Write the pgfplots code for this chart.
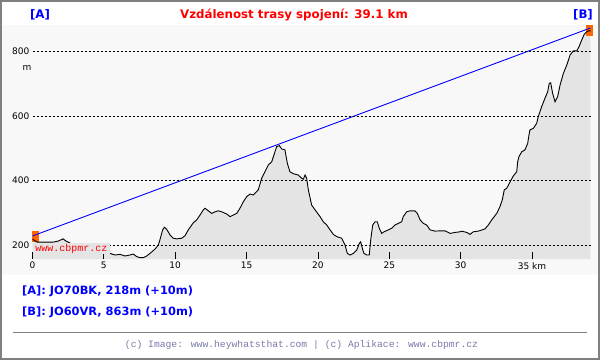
\documentclass[border=0pt]{standalone}
\usepackage{fontspec}
\setmainfont{DejaVu Sans}
\newfontfamily\monofont{Liberation Mono}
\usepackage{pgfplots}
\usepackage{pgfplotstable}
\pgfplotsset{compat=1.18}
\definecolor{panel}{HTML}{F8F8F8}
\definecolor{terrain}{HTML}{E4E4E4}
\definecolor{frame}{HTML}{808080}
\definecolor{orangeM}{HTML}{FF6600}
\definecolor{legblue}{HTML}{0000FF}
\definecolor{footc}{HTML}{7A7AAA}
\pgfplotstableread{
km elev
0 218
0.32 209
0.88 209
1.44 209
1.79 212
2.14 219
2.35 212
2.9 200
3.6 188
4.4 178
5.0 176
5.43 174
5.78 169
6.13 171
6.48 166
6.83 169
7.06 172
7.30 164
7.53 161
7.77 161
8.00 166
8.23 174
8.58 187
8.82 200
8.93 216
9.12 247
9.24 255
9.40 249
9.64 231
9.87 221
10.10 219
10.46 221
10.69 229
10.92 247
11.27 269
11.51 278
11.74 293
11.97 309
12.09 314
12.32 306
12.56 298
12.79 303
13.02 306
13.26 303
13.61 296
13.84 288
14.07 293
14.31 298
14.54 314
14.77 334
15.01 350
15.24 358
15.47 355
15.82 371
16.06 407
16.29 427
16.52 448
16.76 458
16.92 479
17.11 505
17.30 508
17.46 498
17.69 495
17.86 453
18.04 427
18.28 421
18.63 417
18.86 407
18.98 404
19.10 417
19.21 407
19.33 371
19.56 324
19.80 309
20.15 288
20.38 272
20.62 262
20.85 247
21.08 233
21.32 226
21.67 221
21.90 200
22.06 174
22.25 169
22.48 174
22.72 184
22.90 205
23.00 210
23.11 190
23.23 174
23.42 169
23.60 169
23.70 216
23.84 262
24.00 272
24.16 272
24.30 252
24.47 236
24.63 241
24.94 247
25.17 252
25.40 262
25.63 267
25.87 272
25.98 288
26.22 303
26.45 306
26.80 306
26.97 298
27.16 278
27.39 267
27.62 262
27.86 247
28.21 243
28.56 244
28.91 244
29.26 236
29.61 239
29.96 241
30.08 243
30.43 239
30.66 233
30.89 241
31.24 243
31.71 250
31.94 262
32.18 278
32.53 298
32.76 319
32.92 340
33.06 371
33.23 376
33.41 391
33.69 414
33.93 427
34.00 458
34.09 474
34.28 489
34.51 495
34.70 515
34.79 541
34.86 557
35.10 562
35.33 577
35.44 598
35.68 629
35.91 655
36.10 675
36.21 701
36.31 703
36.45 670
36.62 644
36.80 660
36.97 696
37.20 732
37.44 758
37.67 789
37.90 802
38.14 802
38.30 815
38.49 836
38.67 854
38.84 861
39.00 865
39.10 863
}\profile
\begin{document}
\begin{tikzpicture}[x=1pt,y=1pt]
\useasboundingbox (0,0) rectangle (600,360);
\fill[white] (0,0) rectangle (600,360);
\fill[panel] (2,85) rectangle (598,335);
\begin{axis}[
  at={(32.5pt,101pt)}, anchor=south west,
  scale only axis, width=559.4pt, height=234pt,
  xmin=0, xmax=39.2, ymin=156.6, ymax=882.2,
  axis line style={draw=none},
  axis on top,
  xtick={0,5,...,35},
  xticklabels={0,5,10,15,20,25,30,35 km},
  ytick={200,400,600,800},
  xtick pos=bottom,
  ytick style={draw=none},
  xtick style={black, line width=0.8pt},
  major tick length=7pt, tick align=inside,
  ymajorgrids,
  grid style={black, dash pattern=on 2pt off 2pt, line width=0.8pt},
  tick label style={font=\fontsize{9}{9}\selectfont, /pgf/number format/assume math mode=true},
  xticklabel style={inner sep=0pt, yshift=-3pt},
  yticklabel style={inner sep=0pt, xshift=-3pt},
  clip mode=individual,
]
\addplot[fill=terrain, draw=none] table[x=km,y=elev] {\profile} \closedcycle;
\addplot[only marks, mark=square*, mark size=5pt, mark options={orangeM, draw=orangeM, xscale=0.62}] coordinates {(0.2,227) (39.0,867)};
\addplot[black, line width=0.9pt] table[x=km,y=elev] {\profile};
\addplot[legblue, line width=0.9pt] coordinates {(0,228) (39.1,873)};
\end{axis}
\node[fill=terrain, inner sep=0pt, minimum width=77pt, minimum height=11pt, text=red, font=\monofont\fontsize{10}{10}\selectfont] at (71.5,111.5) {www.cbpmr.cz};
\node[font=\fontsize{9}{9}\selectfont] at (27,292) {m};
\node[font=\bfseries\fontsize{11.8}{11.8}\selectfont, text=red] at (294,345) {Vzdálenost trasy spojení: 39.1 km};
\node[font=\bfseries\fontsize{11.8}{11.8}\selectfont, text=legblue] at (40,345) {[A]};
\node[font=\bfseries\fontsize{11.8}{11.8}\selectfont, text=legblue] at (583,345) {[B]};
\node[anchor=west, inner sep=0pt, font=\bfseries\fontsize{11.4}{11.4}\selectfont, text=legblue] at (22,69) {[A]: JO70BK, 218m (+10m)};
\node[anchor=west, inner sep=0pt, font=\bfseries\fontsize{11.4}{11.4}\selectfont, text=legblue] at (22,48) {[B]: JO60VR, 863m (+10m)};
\draw[frame, line width=1pt] (13,27.7) -- (587,27.7);
\node[text=footc, font=\monofont\fontsize{9.7}{9.7}\selectfont] at (301.5,15.5) {(c) Image: www.heywhatsthat.com | (c) Aplikace: www.cbpmr.cz};
\draw[frame, line width=2pt] (1,1) rectangle (599,359);
\end{tikzpicture}
\end{document}
